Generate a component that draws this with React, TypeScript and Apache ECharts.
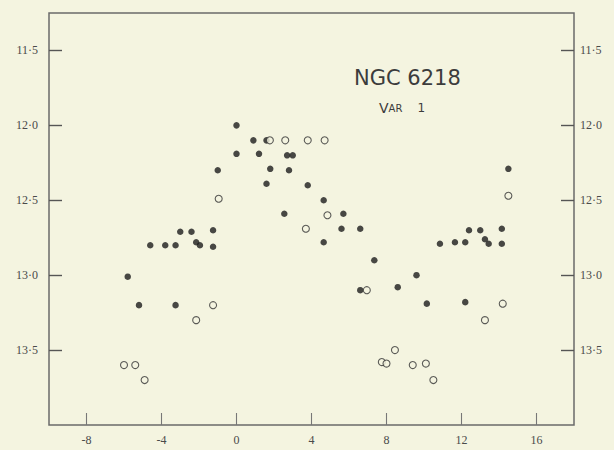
import React, { useEffect, useRef } from "react";
import * as echarts from "echarts";

const xTicks = [-8, -4, 0, 4, 8, 12, 16];
const xTickLabels = ["-8", "-4", "0", "4", "8", "12", "16"];
const yTicks = [11.5, 12.0, 12.5, 13.0, 13.5];
const yTickLabels = ["11·5", "12·0", "12·5", "13·0", "13·5"];

const filledX = [0, 0.9, 1.6, 0, 1.2, 2.7, 3.0, -1.0, 1.8, 2.8, 1.6, 3.8, 4.65, 5.7, 2.55, -3.0, -2.4, -1.25, 5.6, 6.6, -4.6, -3.8, -3.25, -2.15, -1.95, -1.25, 4.65, 7.35, -5.8, 9.6, 6.6, 8.6, 10.85, 11.65, 12.2, 12.4, 13.0, 13.25, 13.45, 14.15, 14.15, 14.5, -5.2, -3.25, 10.15, 12.2];
const filledY = [12.0, 12.1, 12.1, 12.19, 12.19, 12.2, 12.2, 12.3, 12.29, 12.3, 12.39, 12.4, 12.5, 12.59, 12.59, 12.71, 12.71, 12.7, 12.69, 12.69, 12.8, 12.8, 12.8, 12.78, 12.8, 12.81, 12.78, 12.9, 13.01, 13.0, 13.1, 13.08, 12.79, 12.78, 12.78, 12.7, 12.7, 12.76, 12.79, 12.69, 12.79, 12.29, 13.2, 13.2, 13.19, 13.18];

const openX = [1.78, 2.6, 3.8, 4.7, -0.95, 4.85, 3.7, 6.95, 14.5, -1.25, -2.15, 14.2, 13.25, -6.0, -5.4, -4.9, 7.75, 8.0, 8.45, 9.4, 10.1, 10.5];
const openY = [12.1, 12.1, 12.1, 12.1, 12.49, 12.6, 12.69, 13.1, 12.47, 13.2, 13.3, 13.19, 13.3, 13.6, 13.6, 13.7, 13.58, 13.59, 13.5, 13.6, 13.59, 13.7];

const BG = "#f4f4e0";
const INK = "#4a4a4a";

export default function App() {
  const ref = useRef<HTMLDivElement>(null);
  useEffect(() => {
    if (!ref.current) return;
    const chart = echarts.init(ref.current, null, { renderer: "svg" });
    const yLabel = (v: number) => {
      const i = yTicks.findIndex((t) => Math.abs(t - v) < 1e-6);
      return i >= 0 ? yTickLabels[i] : "";
    };
    const xLabel = (v: number) => {
      const i = xTicks.findIndex((t) => Math.abs(t - v) < 1e-6);
      return i >= 0 ? xTickLabels[i] : "";
    };
    const labelStyle = { color: INK, fontFamily: "Liberation Serif", fontSize: 12 };
    const yAxisBase = (pos: "left" | "right", margin: number) => ({
      type: "value",
      position: pos,
      inverse: true,
      min: 11.25,
      max: 14.0,
      axisLine: { show: false, onZero: false },
      splitLine: { show: false },
      axisTick: { show: true, inside: true, length: 13, customValues: yTicks, lineStyle: { color: "#555", width: 1.4 } },
      axisLabel: { show: true, customValues: yTicks, formatter: yLabel, margin, ...labelStyle },
    });
    chart.setOption({
      animation: false,
      backgroundColor: BG,
      grid: { left: 49, right: 40, top: 13, bottom: 25, show: true, borderColor: "#6a6a6a", borderWidth: 1.5, backgroundColor: "transparent" },
      xAxis: {
        type: "value",
        min: -10,
        max: 18,
        axisLine: { show: false, onZero: false },
        splitLine: { show: false },
        axisTick: { show: true, inside: true, length: 12, customValues: xTicks, lineStyle: { color: "#777", width: 1.1 } },
        axisLabel: { show: true, customValues: xTicks, formatter: xLabel, margin: 9, ...labelStyle },
      },
      yAxis: [yAxisBase("left", 11), yAxisBase("right", 6)],
      graphic: [
        { type: "text", left: 354, top: 67, style: { text: "NGC 6218", fill: "#3c3c3c", font: "21px 'DejaVu Sans'" } },
        {
          type: "text",
          left: 379,
          top: 101,
          style: {
            text: "{a|V}{b|AR}{c|    1}",
            rich: {
              a: { fill: "#3c3c3c", fontSize: 14, fontFamily: "DejaVu Sans" },
              b: { fill: "#3c3c3c", fontSize: 10, fontFamily: "DejaVu Sans" },
              c: { fill: "#3c3c3c", fontSize: 12, fontFamily: "DejaVu Sans" },
            },
          },
        },
      ],
      series: [
        {
          type: "scatter",
          data: filledX.map((x, i) => [x, filledY[i]]),
          symbol: "circle",
          symbolSize: 6.5,
          itemStyle: { color: "#1c1c1c" },
        },
        {
          type: "scatter",
          data: openX.map((x, i) => [x, openY[i]]),
          symbol: "circle",
          symbolSize: 7,
          itemStyle: { color: BG, borderColor: "#333", borderWidth: 1.1 },
        },
      ],
    });
    return () => chart.dispose();
  }, []);
  return <div ref={ref} style={{ position: "fixed", left: 0, top: 0, width: 614, height: 450 }} />;
}
